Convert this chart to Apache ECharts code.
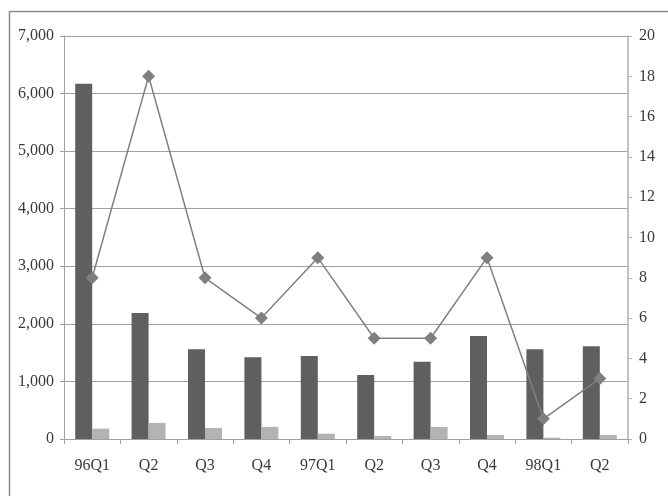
<!DOCTYPE html>
<html>
<head>
<meta charset="utf-8">
<script src="https://cdn.jsdelivr.net/npm/echarts@6/dist/echarts.min.js"></script>
<style>html,body{margin:0;padding:0;background:#fff}#c{width:668px;height:496px}</style>
</head>
<body>
<div id="c"></div>
<script>
var categories = ['96Q1','Q2','Q3','Q4','97Q1','Q2','Q3','Q4','98Q1','Q2'];
var darkValues = [6170, 2190, 1560, 1420, 1440, 1110, 1340, 1790, 1560, 1610];
var lightValues = [180, 280, 190, 210, 92, 52, 208, 70, 23, 70];
var lineValues = [8, 18, 8, 6, 9, 5, 5, 9, 1, 3];

var font = 'Liberation Serif';
var chart = echarts.init(document.getElementById('c'), null, {renderer: 'canvas'});
chart.setOption({
  animation: false,
  backgroundColor: '#fff',
  graphic: [{
    type: 'rect', left: 7, top: 9,
    shape: {width: 700, height: 600},
    style: {fill: 'none', stroke: '#8a8a8a', lineWidth: 1.5},
    silent: true
  }],
  grid: {left: 64, right: 40, top: 36, bottom: 57},
  xAxis: {
    type: 'category',
    data: categories,
    axisLine: {lineStyle: {color: '#a0a0a0', width: 1}},
    axisTick: {show: true, length: 5, lineStyle: {color: '#a0a0a0'}},
    axisLabel: {fontFamily: font, fontSize: 16, color: '#3a3a3a', margin: 19}
  },
  yAxis: [{
    type: 'value', min: 0, max: 7000, interval: 1000,
    axisLine: {show: true, lineStyle: {color: '#a0a0a0'}},
    axisTick: {show: true, length: 4, lineStyle: {color: '#a0a0a0'}},
    splitLine: {lineStyle: {color: '#a0a0a0', width: 1}},
    axisLabel: {
      fontFamily: font, fontSize: 16, color: '#3a3a3a', margin: 10,
      formatter: function (v) { return v.toLocaleString('en-US'); }
    }
  }, {
    type: 'value', min: 0, max: 20, interval: 2, position: 'right',
    axisLine: {show: true, lineStyle: {color: '#b0b0b0', width: 1.5}},
    axisTick: {show: true, length: 4, lineStyle: {color: '#b0b0b0'}},
    splitLine: {show: false},
    axisLabel: {fontFamily: font, fontSize: 16, color: '#3a3a3a', margin: 11}
  }],
  series: [{
    type: 'bar', data: darkValues, yAxisIndex: 0,
    barWidth: 17, barGap: '0%',
    itemStyle: {color: '#5f5f5f'}
  }, {
    type: 'bar', data: lightValues, yAxisIndex: 0,
    barWidth: 17, barGap: '0%',
    itemStyle: {color: '#b3b3b3'}
  }, {
    type: 'line', data: lineValues, yAxisIndex: 1,
    symbol: 'diamond', symbolSize: 13,
    lineStyle: {color: '#808080', width: 1.5},
    itemStyle: {color: '#7f7f7f'}
  }]
});
</script>
</body>
</html>
